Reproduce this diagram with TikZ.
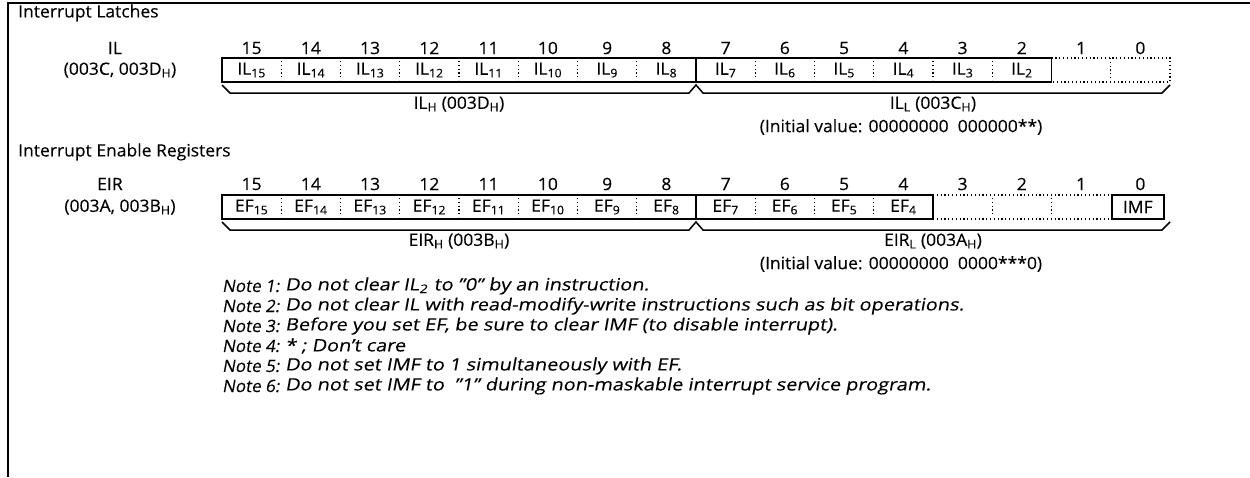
\documentclass[tikz,border=0pt]{standalone}
\usepackage{fontspec}
\setmainfont{Open Sans}[FakeBold=0.25,FakeStretch=1.03]
\newfontfamily\slfont{Open Sans}[FakeSlant=0.18,FakeBold=0.25,FakeStretch=1.17]
\newfontfamily\sllabfont{Open Sans}[FakeSlant=0.18,FakeBold=0.25]
\begin{document}
\begin{tikzpicture}[x=1pt,y=-1pt,font=\fontsize{17}{19}\selectfont,
  frame/.style={line width=2.2pt},
  solidbox/.style={line width=1.5pt},
  dotline/.style={line width=1.3pt,dash pattern=on 1.2pt off 2.6pt},
  bracestyle/.style={line width=1.5pt},
  lbl/.style={inner sep=0pt},
  notelbl/.style={anchor=west,inner sep=0pt,font=\fontsize{17}{19}\sllabfont},
  notetxt/.style={anchor=west,inner sep=0pt,font=\fontsize{17}{19}\slfont}]
\useasboundingbox (0,0) rectangle (1250,477);
\def\L{222}
\def\W{59.25}
\pgfmathsetmacro{\M}{\L+8*\W}
\pgfmathsetmacro{\R}{\L+16*\W}
% frame
\draw[frame] (8,477) -- (8,3) -- (1250,3);
% ---------- IL ----------
\node[lbl,anchor=west] (t1) at (18,13) {Interrupt Latches};
\node[lbl] (il) at (115,48) {IL};
\node[lbl] (iladdr) at (120,70) {(003C, 003D\textsubscript{H})};
\foreach \i in {0,...,15}{
  \node[lbl] (na\i) at ({\L+(15.5-\i)*\W},48) {\i};
}
\foreach \i in {2,...,15}{
  \node[lbl] (ca\i) at ({\L+(15.5-\i)*\W},70) {IL\textsubscript{\i}};
}
\draw[solidbox] (\L,58) rectangle ({\L+14*\W},82);
\draw[solidbox] (\M,58) -- (\M,82);
\foreach \k in {1,...,7,9,10,11,12,13}{
  \draw[dotline] ({\L+\k*\W},61) -- ({\L+\k*\W},80);
}
\draw[dotline] ({\L+14*\W},58) -- (\R,58) -- (\R,82) -- ({\L+14*\W},82);
\draw[dotline] ({\L+15*\W},58) -- ({\L+15*\W},82);
\draw[bracestyle] (\L,85) -- ({\L+8},93) -- ({\M-7},93) -- (\M,85) -- ({\M+7},93) -- ({\R-8},93) -- (\R,85);
\node[lbl] (ilh) at ({(\L+\M)/2},104) {IL\textsubscript{H} (003D\textsubscript{H})};
\node[lbl] (ill) at ({(\M+\R)/2},104) {IL\textsubscript{L} (003C\textsubscript{H})};
\node[lbl] (ilinit) at (901,127) {(Initial value: 00000000\ \ 000000**)};
% ---------- EIR ----------
\node[lbl,anchor=west] (t2) at (18,152) {Interrupt Enable Registers};
\node[lbl] (eir) at (110,184) {EIR};
\node[lbl] (eiraddr) at (120,207) {(003A, 003B\textsubscript{H})};
\foreach \i in {0,...,15}{
  \node[lbl] (nb\i) at ({\L+(15.5-\i)*\W},184) {\i};
}
\foreach \i in {4,...,15}{
  \node[lbl] (cb\i) at ({\L+(15.5-\i)*\W},207) {EF\textsubscript{\i}};
}
\draw[solidbox] (\L,195) rectangle ({\L+12*\W},219);
\draw[solidbox] (\M,195) -- (\M,219);
\foreach \k in {1,...,7,9,10,11}{
  \draw[dotline] ({\L+\k*\W},198) -- ({\L+\k*\W},217);
}
\draw[dotline] ({\L+12*\W},195) -- ({\L+15*\W},195);
\draw[dotline] ({\L+12*\W},219) -- ({\L+15*\W},219);
\foreach \k in {13,14}{
  \draw[dotline] ({\L+\k*\W},198) -- ({\L+\k*\W},217);
}
\node[solidbox,draw,minimum width=52pt,minimum height=24pt,inner sep=0pt] (imf) at ({\L+15*\W+27},207) {IMF};
\draw[bracestyle] (\L,222) -- ({\L+8},230) -- ({\M-7},230) -- (\M,222) -- ({\M+7},230) -- ({\R-8},230) -- (\R,222);
\node[lbl] (eirh) at ({(\L+\M)/2},241) {EIR\textsubscript{H} (003B\textsubscript{H})};
\node[lbl] (eirl) at ({(\M+\R)/2},241) {EIR\textsubscript{L} (003A\textsubscript{H})};
\node[lbl] (eirinit) at (901,264) {(Initial value: 00000000\ \ 0000***0)};
% ---------- Notes ----------
\node[notelbl] (n1) at (222,286) {Note 1:};
\node[notetxt] (m1) at (285,286) {Do not clear IL\textsubscript{2}\kern1pt\ to ”0” by an instruction.};
\node[notelbl] (n2) at (222,306) {Note 2:};
\node[notetxt] (m2) at (285,306) {Do not clear IL with read-modify-write instructions such as bit operations.};
\node[notelbl] (n3) at (222,326) {Note 3:};
\node[notetxt] (m3) at (285,326) {Before you set EF, be sure to clear IMF (to disable interrupt).};
\node[notelbl] (n4) at (222,346) {Note 4:};
\node[notetxt] (m4) at (285,346) {* ; Don’t care};
\node[notelbl] (n5) at (222,366) {Note 5:};
\node[notetxt] (m5) at (285,366) {Do not set IMF to 1 simultaneously with EF.};
\node[notelbl] (n6) at (222,386) {Note 6:};
\node[notetxt] (m6) at (285,386) {Do not set IMF to \ ”1” during non-maskable interrupt service program.};
\end{tikzpicture}
\end{document}
